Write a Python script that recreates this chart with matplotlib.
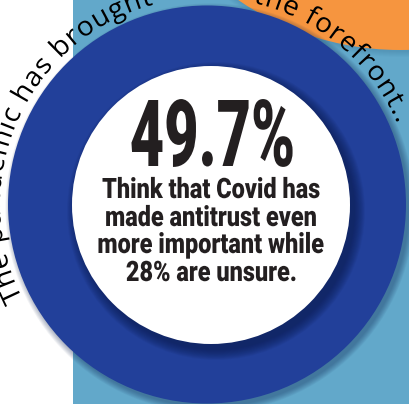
import numpy as np
import matplotlib
matplotlib.use("Agg")
import matplotlib.pyplot as plt
from matplotlib.patches import Circle, Rectangle, PathPatch
from matplotlib.path import Path
from matplotlib.textpath import TextPath, text_to_path
from matplotlib.font_manager import FontProperties

# --- content ---
headline = "49.7%"
body_lines = ["Think that Covid has",
              "made antitrust even",
              "more important while",
              "28% are unsure."]
arc_left = "The pandemic has brought"
arc_right = "the forefront.."

W, H = 410, 404
LIGHT_BLUE = "#62A8CA"
DARK_BLUE = "#22409A"
ORANGE = "#F6953F"
INK = "#231F20"

fig = plt.figure(figsize=(W / 100, H / 100), dpi=100)
ax = fig.add_axes([0, 0, 1, 1])
ax.set_xlim(0, W)
ax.set_ylim(H, 0)
ax.set_aspect("equal")
ax.axis("off")


def flat_path(text, prop, size=100):
    return TextPath((0, 0), text, size=size, prop=prop)


def place_text(text, prop, cx, baseline, cap_h, xscale, color):
    """Draw text centred at cx with given cap height, horizontally condensed."""
    tp = flat_path(text, prop)
    cap = flat_path("H", prop).get_extents().height
    s = cap_h / cap
    ext = tp.get_extents()
    v = tp.vertices.copy()
    v[:, 0] = cx + (v[:, 0] - (ext.x0 + ext.x1) / 2) * s * xscale
    v[:, 1] = baseline - v[:, 1] * s
    ax.add_patch(PathPatch(Path(v, tp.codes), fc=color, ec="none", zorder=10))


def char_layout(text, prop, size, track):
    p = prop.copy()
    p.set_size(size)
    xs, x = [], 0.0
    for ch in text:
        xs.append(x)
        w = text_to_path.get_text_width_height_descent(ch, p, ismath=False)[0]
        x += w + track
    return xs, x - track


def arc_text(text, prop, cx, cy, R, theta, size, track, color, anchor="start"):
    xs, total = char_layout(text, prop, size, track)
    if anchor == "end":
        theta = theta + total / R
    for ch, x0 in zip(text, xs):
        if ch == " ":
            continue
        tp = TextPath((0, 0), ch, size=size, prop=prop)
        v = tp.vertices.copy()
        th = theta - (v[:, 0] + x0) / R
        r = R + v[:, 1]
        out = np.column_stack([cx + r * np.cos(th), cy - r * np.sin(th)])
        ax.add_patch(PathPatch(Path(out, tp.codes), fc=color, ec="none",
                               zorder=12))
    return total


# background
ax.add_patch(Rectangle((0, 0), W, H, fc="white", ec="none", zorder=0))
ax.add_patch(Rectangle((73, 0), W - 73, H, fc=LIGHT_BLUE, ec="none", zorder=1))

# orange disc (top right)
for k in range(6):
    ax.add_patch(Circle((402, -235), 287 + k, fc="#2A5C80", ec="none",
                        alpha=0.04, zorder=2))
ax.add_patch(Circle((400, -237), 287, fc=ORANGE, ec="none", zorder=3))

# dark blue disc with soft shadow
for k in range(8):
    ax.add_patch(Circle((210, 208), 199 + k * 0.8, fc="#0E2350", ec="none",
                        alpha=0.05, zorder=4))
ax.add_patch(Circle((207, 204.5), 199, fc=DARK_BLUE, ec="none", zorder=5))

# inner white disc with drop shadow
for k in range(12):
    ax.add_patch(Circle((216, 211), 139 + k * 0.9, fc="#0A1B4D", ec="none",
                        alpha=0.07, zorder=6))
ax.add_patch(Circle((211, 205), 139, fc="white", ec="none", zorder=7))

# headline and body text
heavy = FontProperties(family="Roboto", weight="black")
place_text(headline, heavy, 212, 166, 66, 0.64, INK)

body_base = [198, 226, 253, 281]
tp0 = flat_path(body_lines[0], heavy)
cap0 = flat_path("H", heavy).get_extents().height
xs = 217 / (tp0.get_extents().width * 20 / cap0)
for line, yb in zip(body_lines, body_base):
    place_text(line, heavy, 211, yb, 20, xs, INK)

# curved handwritten-style caption around the ring
hand = FontProperties(family="Open Sans")
cx, cy, R = 207, 204.5, 207
fs = 27
_, w0 = char_layout(arc_left, hand, fs, 0)
track = (np.deg2rad(207 - 105) * R - w0) / (len(arc_left) - 1)
arc_text(arc_left, hand, cx, cy, R, np.deg2rad(207), fs, track, "black")
arc_text(arc_right, hand, cx, cy, R, np.deg2rad(23), fs, track, "black",
         anchor="end")

fig.savefig("out.png", dpi=100)
